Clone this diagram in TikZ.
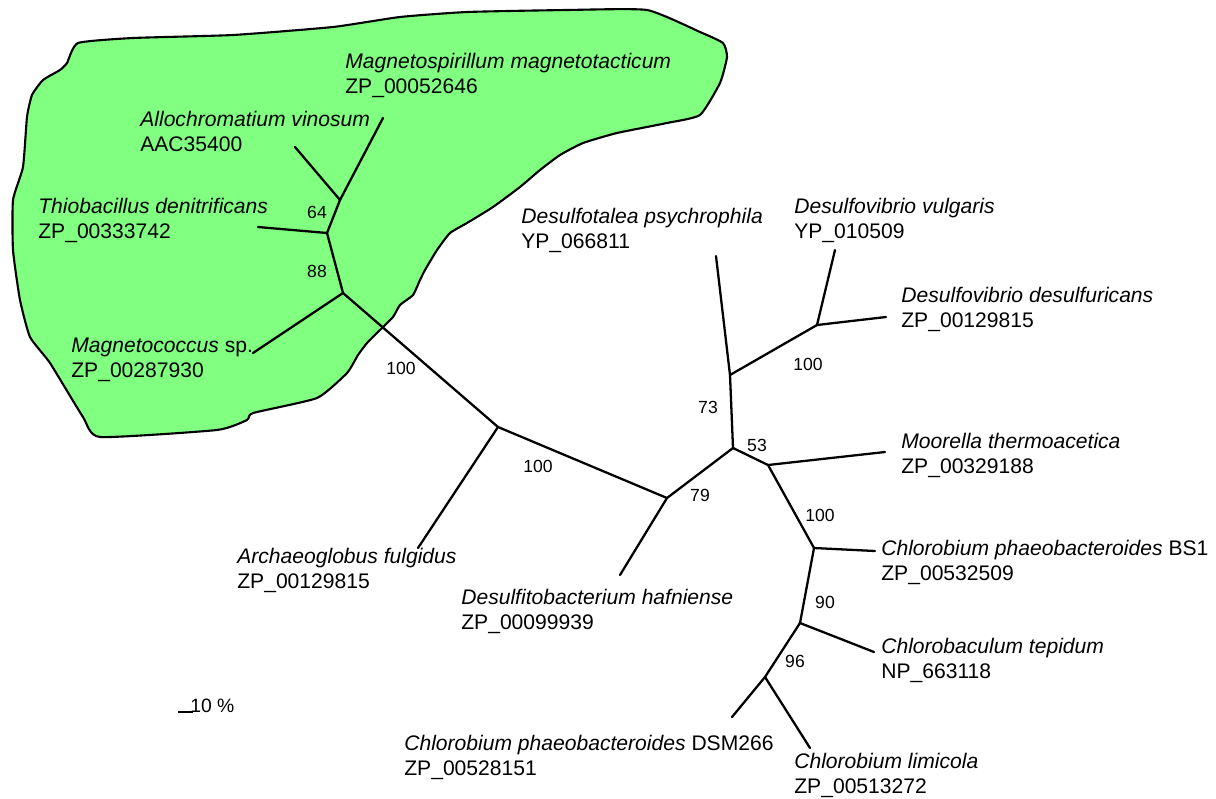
\documentclass[tikz,border=0pt]{standalone}
\usepackage{fontspec}
\setmainfont{Liberation Sans}
\definecolor{cladegreen}{HTML}{80FF80}

\begin{document}
\begin{tikzpicture}[
    x=0.02cm, y=-0.02cm,
    branch/.style={line width=1.3pt, line cap=round},
    clade/.style={draw, line width=1.2pt, fill=cladegreen, line join=round},
    leaf/.style={anchor=base west, align=left, inner sep=0pt, font=\fontsize{12}{14.2}\selectfont},
    boot/.style={inner sep=0pt, font=\fontsize{10}{12}\selectfont}
]
\useasboundingbox (0,0) rectangle (1216,798);

\draw[clade] plot[smooth cycle, tension=0.3] coordinates {
    (78,43) (133,38) (233,35) (333,27) (400,17) (467,12) (567,10) (647,10)
    (700,32) (723,43) (727,57) (720,83) (700,115) (667,123) (617,133) (583,143)
    (560,155) (540,170) (520,187) (493,207) (467,223) (450,233) (437,250) (425,270)
    (420,280) (413,295) (400,305) (393,317) (382,328) (367,343) (358,355) (347,373)
    (317,398) (253,413) (247,420) (217,430) (100,437) (83,417) (50,363) (30,337)
    (20,300) (13,250) (13,200) (23,167) (27,117) (32,95) (43,80) (60,70) (67,63)};

\coordinate (n64) at (340,200);
\coordinate (n88) at (327,233);
\coordinate (nMc) at (343,293);
\coordinate (nArc) at (498,427);
\coordinate (n79) at (667,498);
\coordinate (n53) at (733,448);
\coordinate (n73) at (730,375);
\coordinate (nDv) at (817,325);
\coordinate (nMt) at (768,465);
\coordinate (nBS) at (814,548);
\coordinate (n90) at (800,623);
\coordinate (n96) at (765,677);

\coordinate (tMm) at (383,118);
\coordinate (tAv) at (295,147);
\coordinate (tTd) at (258,227);
\coordinate (tMc) at (253,353);
\coordinate (tAf) at (418,548);
\coordinate (tDh) at (620,575);
\coordinate (tDp) at (716,256);
\coordinate (tDvu) at (835,250);
\coordinate (tDd) at (886,317);
\coordinate (tMth) at (885,452);
\coordinate (tBS) at (875,551);
\coordinate (tCt) at (874,652);
\coordinate (tDSM) at (732,717);
\coordinate (tCl) at (810,748);

\draw[branch] (n64) -- (tMm);
\draw[branch] (n64) -- (tAv);
\draw[branch] (n64) -- (n88);
\draw[branch] (n88) -- (tTd);
\draw[branch] (n88) -- (nMc);
\draw[branch] (nMc) -- (tMc);
\draw[branch] (nMc) -- (nArc);
\draw[branch] (nArc) -- (tAf);
\draw[branch] (nArc) -- (n79);
\draw[branch] (n79) -- (tDh);
\draw[branch] (n79) -- (n53);
\draw[branch] (n53) -- (n73);
\draw[branch] (n73) -- (tDp);
\draw[branch] (n73) -- (nDv);
\draw[branch] (nDv) -- (tDvu);
\draw[branch] (nDv) -- (tDd);
\draw[branch] (n53) -- (nMt);
\draw[branch] (nMt) -- (tMth);
\draw[branch] (nMt) -- (nBS);
\draw[branch] (nBS) -- (tBS);
\draw[branch] (nBS) -- (n90);
\draw[branch] (n90) -- (tCt);
\draw[branch] (n90) -- (n96);
\draw[branch] (n96) -- (tDSM);
\draw[branch] (n96) -- (tCl);

\node[leaf] (lMm) at (345,93) {\textit{Magnetospirillum magnetotacticum}\\ZP\_00052646};
\node[leaf] (lAv) at (140,151) {\textit{Allochromatium vinosum}\\AAC35400};
\node[leaf] (lTd) at (38,238) {\textit{Thiobacillus denitrificans}\\ZP\_00333742};
\node[leaf] (lMc) at (71,377) {\textit{Magnetococcus} sp.\\ZP\_00287930};
\node[leaf] (lAf) at (237,588) {\textit{Archaeoglobus fulgidus}\\ZP\_00129815};
\node[leaf] (lDh) at (461,629) {\textit{Desulfitobacterium hafniense}\\ZP\_00099939};
\node[leaf] (lDp) at (521,248) {\textit{Desulfotalea psychrophila}\\YP\_066811};
\node[leaf] (lDvu) at (794,238) {\textit{Desulfovibrio vulgaris}\\YP\_010509};
\node[leaf] (lDd) at (901,327) {\textit{Desulfovibrio desulfuricans}\\ZP\_00129815};
\node[leaf] (lMth) at (901,473) {\textit{Moorella thermoacetica}\\ZP\_00329188};
\node[leaf] (lBS) at (881,580) {\textit{Chlorobium phaeobacteroides} BS1\\ZP\_00532509};
\node[leaf] (lCt) at (881,678) {\textit{Chlorobaculum tepidum}\\NP\_663118};
\node[leaf] (lDSM) at (404,775) {\textit{Chlorobium phaeobacteroides} DSM266\\ZP\_00528151};
\node[leaf] (lCl) at (794,793) {\textit{Chlorobium limicola}\\ZP\_00513272};

\node[boot] (b64) at (317,212) {64};
\node[boot] (b88) at (317,271) {88};
\node[boot] (b100a) at (401,368) {100};
\node[boot] (b100b) at (538,466) {100};
\node[boot] (b79) at (700,495) {79};
\node[boot] (b73) at (708,407) {73};
\node[boot] (b100c) at (808,364) {100};
\node[boot] (b53) at (757,445) {53};
\node[boot] (b100d) at (820,515) {100};
\node[boot] (b90) at (825,602) {90};
\node[boot] (b96) at (795,661) {96};

\coordinate (s0) at (178,712);
\coordinate (s1) at (193,712);
\draw[line width=1.3pt] (s0) -- (s1);
\node[boot, anchor=base west, font=\fontsize{11}{13}\selectfont] (scale) at (190,712) {10 \%};
\end{tikzpicture}
\end{document}
